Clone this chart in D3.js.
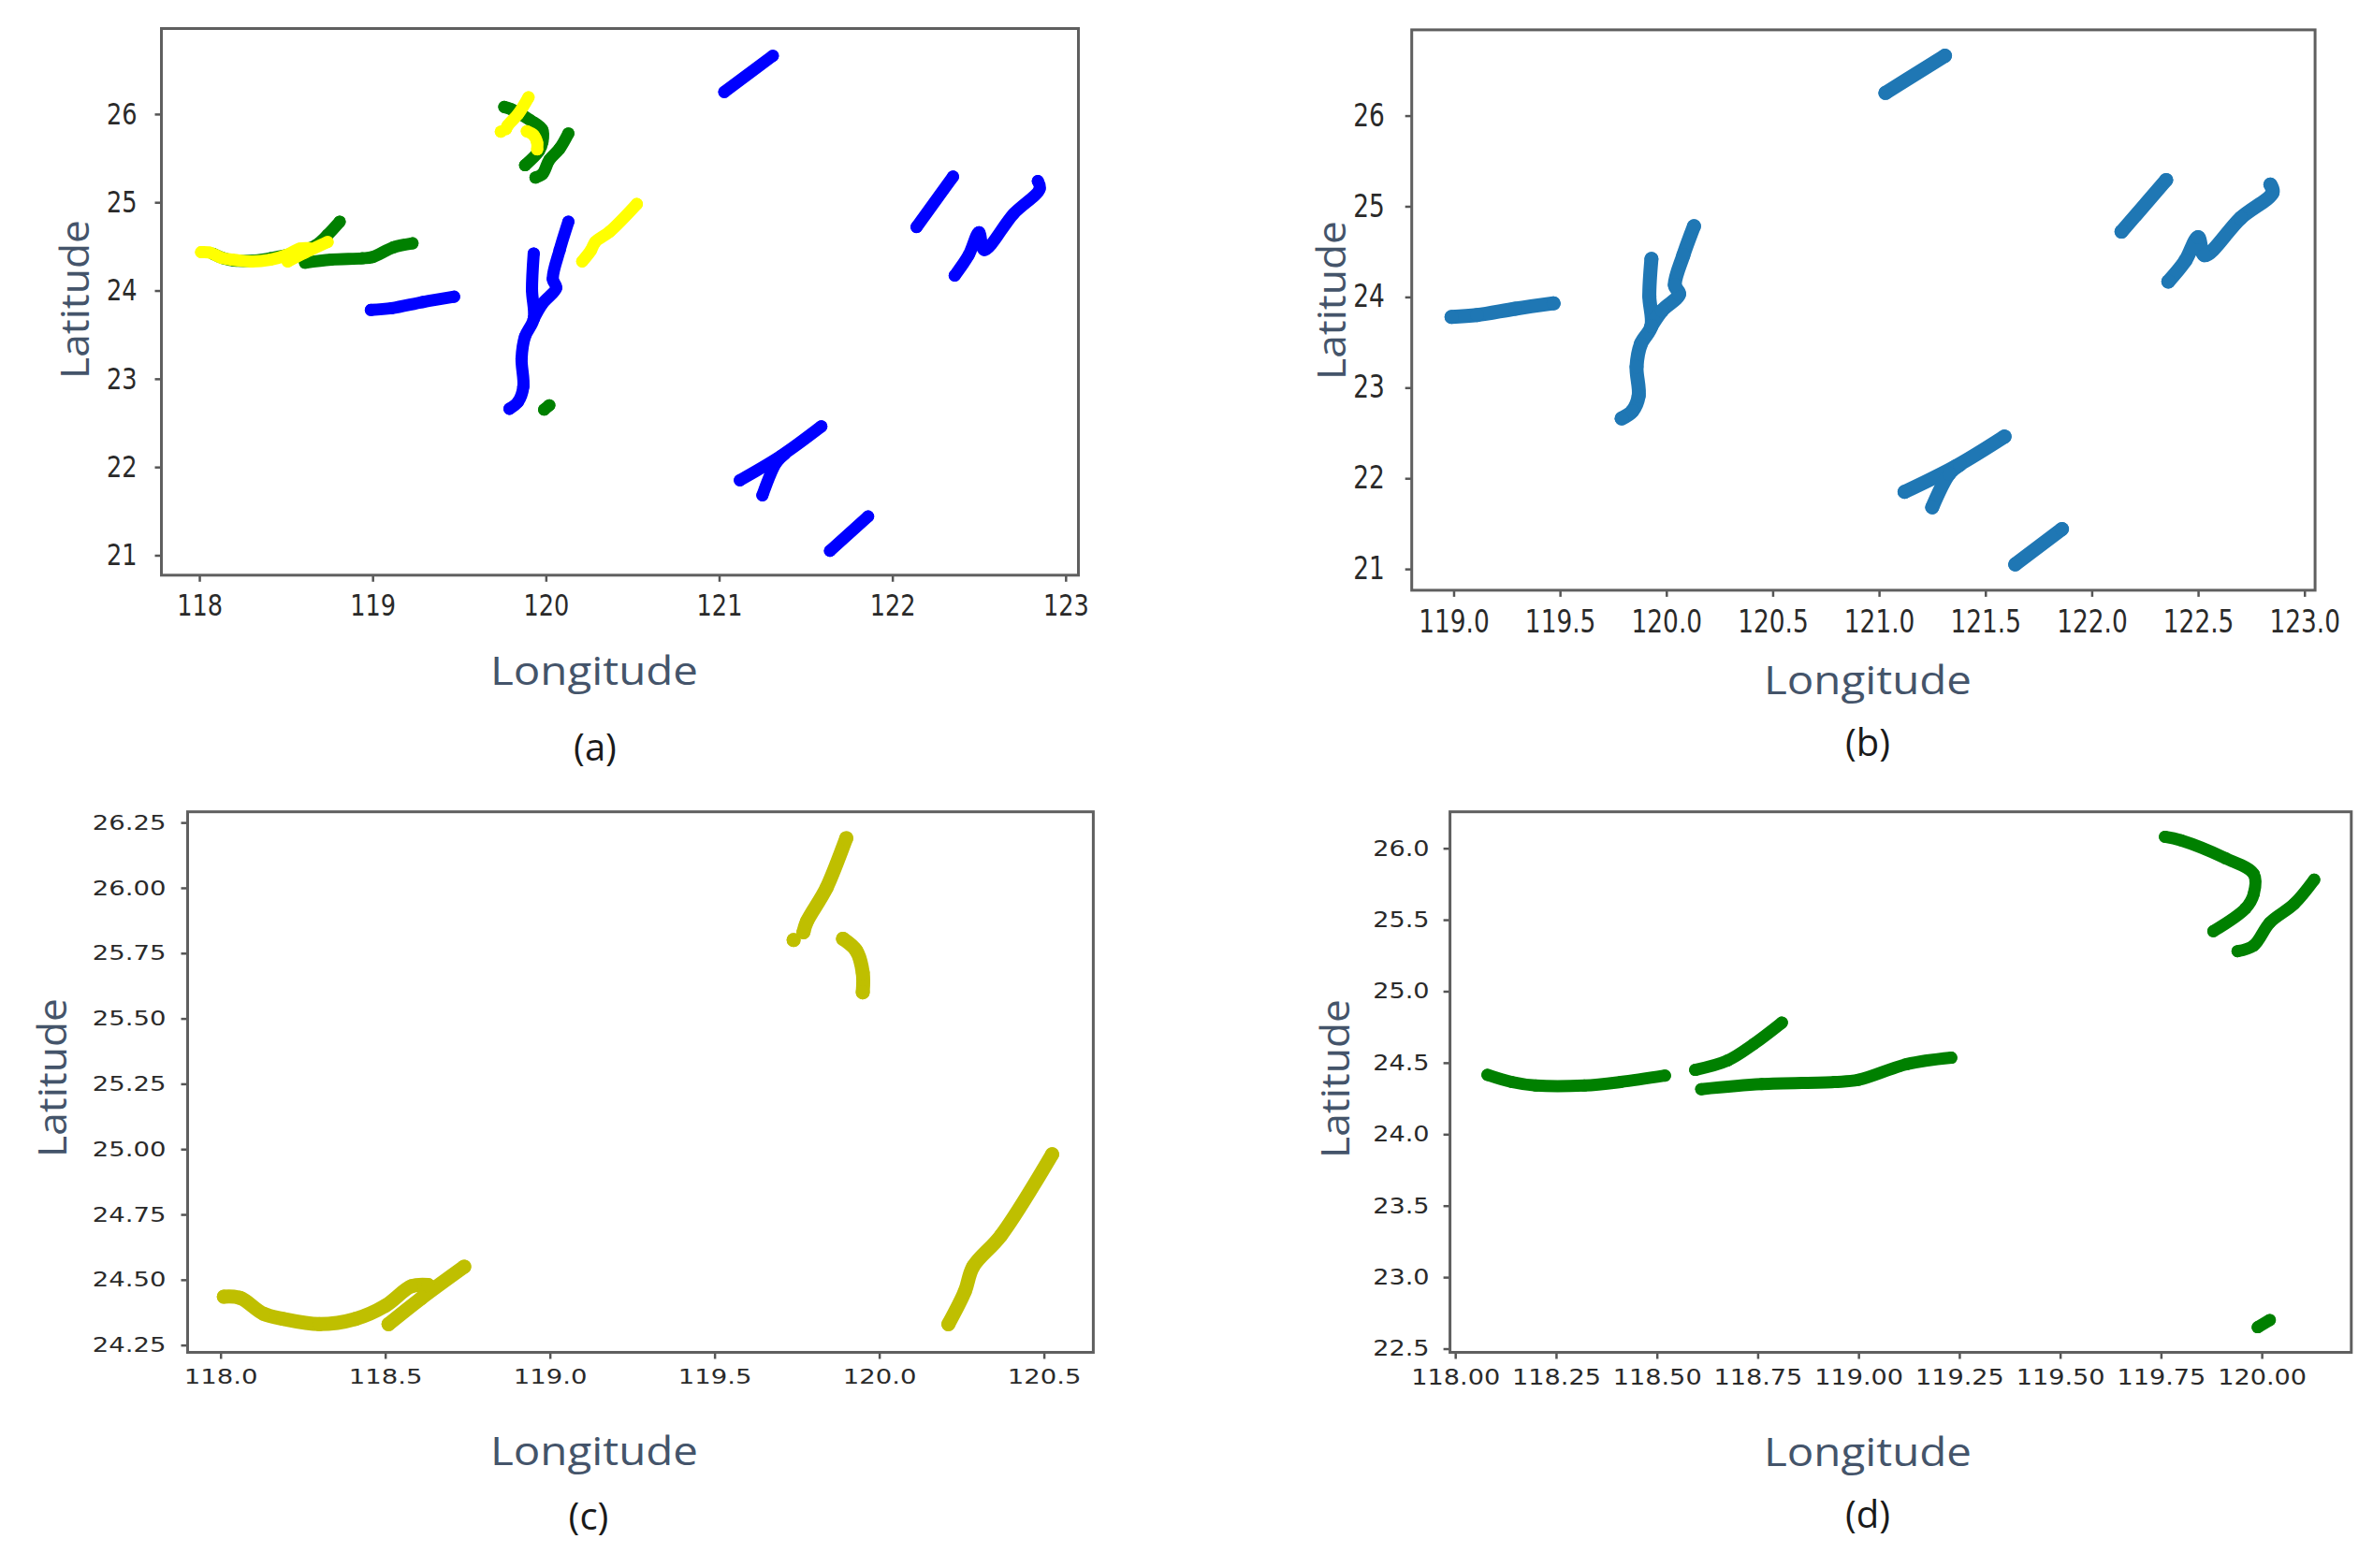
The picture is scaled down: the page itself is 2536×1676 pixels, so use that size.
<!DOCTYPE html>
<meta charset="utf-8">
<body>
<svg id="fig"></svg>
</body>

<style>
body { margin: 0; background: #fff; }
.ax-label { font-family: "Open Sans", sans-serif; fill: #44546a; }
.sub-label { font-family: "Open Sans", sans-serif; fill: #1a1a1a; }
.tick text { font-family: "DejaVu Sans", sans-serif; fill: #2a2a2a; }
.tick line { stroke: #555; stroke-width: 2.5; }
</style>

<script src="https://d3js.org/d3.v7.min.js"></script>
<script>

// ---- data: ship tracks, [longitude, latitude] ----

var blueTracks = [
  [[118.99, 23.78], [119.11, 23.80], [119.29, 23.87], [119.47, 23.93]],
  [[119.79, 22.66], [119.84, 22.74], [119.87, 22.91], [119.86, 23.23], [119.88, 23.48], [119.93, 23.68], [119.92, 24.01], [119.93, 24.42]],
  [[119.93, 23.68], [119.98, 23.85], [120.06, 24.03], [120.04, 24.13], [120.08, 24.46], [120.13, 24.78]],
  [[121.03, 26.25], [121.31, 26.66]],
  [[122.14, 24.72], [122.35, 25.29]],
  [[122.36, 24.17], [122.44, 24.40], [122.50, 24.66], [122.53, 24.46], [122.70, 24.87], [122.85, 25.15], [122.84, 25.24]],
  [[121.12, 21.85], [121.36, 22.13], [121.59, 22.46]],
  [[121.25, 21.68], [121.33, 22.05], [121.38, 22.15]],
  [[121.64, 21.05], [121.86, 21.44]]
];

var greenTracks = [
  [[118.08, 24.415], [118.14, 24.365], [118.20, 24.34], [118.32, 24.34], [118.41, 24.365], [118.52, 24.41]],
  [[118.595, 24.45], [118.675, 24.515], [118.74, 24.63], [118.81, 24.78]],
  [[118.61, 24.315], [118.76, 24.35], [118.94, 24.365], [119.00, 24.38], [119.12, 24.49], [119.23, 24.535]],
  [[119.76, 26.08], [119.80, 26.055], [119.91, 25.93], [119.98, 25.82], [119.98, 25.68], [119.96, 25.58], [119.88, 25.42]],
  [[119.94, 25.28], [119.98, 25.32], [120.02, 25.48], [120.08, 25.61], [120.13, 25.78]],
  [[119.99, 22.65], [120.02, 22.70]]
];

var yellowTracks = [
  [[118.01, 24.435], [118.06, 24.43], [118.13, 24.37], [118.19, 24.35], [118.30, 24.33], [118.41, 24.35], [118.50, 24.40], [118.58, 24.475], [118.63, 24.48]],
  [[118.51, 24.33], [118.61, 24.43], [118.74, 24.55]],
  [[119.74, 25.80]],
  [[119.77, 25.83], [119.78, 25.87], [119.84, 26.00], [119.90, 26.19]],
  [[119.89, 25.805], [119.93, 25.76], [119.95, 25.675], [119.95, 25.60]],
  [[120.21, 24.33], [120.26, 24.455], [120.285, 24.55], [120.37, 24.67], [120.525, 24.98]]
];

// axis limits and ticks of each panel
var xLimA = [117.781, 123.074], yLimA = [20.774, 26.969];
var xTicksA = [118, 119, 120, 121, 122, 123], yTicksA = [21, 22, 23, 24, 25, 26];

var xLimB = [118.803, 123.05], yLimB = [20.765, 26.946];
var xTicksB = [119, 119.5, 120, 120.5, 121, 121.5, 122, 122.5, 123], yTicksB = [21, 22, 23, 24, 25, 26];

var xLimC = [117.90, 120.65], yLimC = [24.222, 26.291];
var xTicksC = [118, 118.5, 119, 119.5, 120, 120.5], yTicksC = [24.25, 24.5, 24.75, 25, 25.25, 25.5, 25.75, 26, 26.25];

var xLimD = [117.987, 120.222], yLimD = [22.474, 26.255];
var xTicksD = [118, 118.25, 118.5, 118.75, 119, 119.25, 119.5, 119.75, 120], yTicksD = [22.5, 23, 23.5, 24, 24.5, 25, 25.5, 26];

// ---- drawing ----

var svg = d3.select("#fig").attr("width", 2536).attr("height", 1676);

svg.append("rect").attr("width", 2536).attr("height", 1676).attr("fill", "#fff");

function drawPanel(p) {
  var w = p.right - p.left, h = p.bottom - p.top;
  var g = svg.append("g").attr("transform", "translate(" + p.left + "," + p.top + ")");

  var x = d3.scaleLinear().domain(p.xLim).range([0, w]);
  var y = d3.scaleLinear().domain(p.yLim).range([h, 0]);

  var line = d3.line().x(d => x(d[0])).y(d => y(d[1])).curve(d3.curveCatmullRom);

  p.layers.forEach(function(L) {
    var lg = g.append("g");
    lg.selectAll("path")
      .data(L.tracks)
      .join("path")
        .attr("d", line)
        .attr("fill", "none")
        .attr("stroke", L.color)
        .attr("stroke-width", p.dot)
        .attr("stroke-linecap", "round")
        .attr("stroke-linejoin", "round");
    lg.selectAll("circle")
      .data(L.tracks.flat())
      .join("circle")
        .attr("cx", d => x(d[0]))
        .attr("cy", d => y(d[1]))
        .attr("r", p.dot / 2)
        .attr("fill", L.color);
  });

  // x axis
  var xg = g.append("g")
      .attr("transform", "translate(0," + h + ")")
      .call(d3.axisBottom(x).tickValues(p.xTicks).tickFormat(d3.format(p.xFmt))
              .tickSize(7).tickSizeOuter(0).tickPadding(p.xGap - 7));
  xg.select(".domain").remove();
  xg.selectAll("text")
      .attr("font-size", p.font)
      .attr("transform", "scale(" + p.sx + ",1)");

  // y axis
  var yg = g.append("g")
      .call(d3.axisLeft(y).tickValues(p.yTicks).tickFormat(d3.format(p.yFmt))
              .tickSize(7).tickSizeOuter(0));
  yg.select(".domain").remove();
  yg.selectAll("text")
      .attr("font-size", p.font)
      .attr("x", -p.yGap / p.sx)
      .attr("transform", "scale(" + p.sx + ",1)");

  // frame
  g.append("rect")
      .attr("width", w).attr("height", h)
      .attr("fill", "none")
      .attr("stroke", "#5f5f5f")
      .attr("stroke-width", 3);

  // labels
  svg.append("text")
      .attr("class", "ax-label")
      .attr("x", p.xLab[0]).attr("y", p.xLab[1])
      .attr("text-anchor", "middle")
      .attr("font-size", 42)
      .attr("textLength", 222).attr("lengthAdjust", "spacingAndGlyphs")
      .text("Longitude");

  svg.append("text")
      .attr("class", "ax-label")
      .attr("transform", "translate(" + p.yLab[0] + "," + p.yLab[1] + ") rotate(-90)")
      .attr("text-anchor", "middle")
      .attr("font-size", 42)
      .attr("textLength", 170).attr("lengthAdjust", "spacingAndGlyphs")
      .text("Latitude");

  svg.append("text")
      .attr("class", "sub-label")
      .attr("x", p.sub[0]).attr("y", p.sub[1])
      .attr("text-anchor", "middle")
      .attr("font-size", 40)
      .text(p.name);
}

drawPanel({
  name: "(a)", left: 172.5, right: 1152.5, top: 30.5, bottom: 614.8,
  xLim: xLimA, yLim: yLimA, xTicks: xTicksA, yTicks: yTicksA, xFmt: "d", yFmt: "d",
  font: 32, sx: 0.8, xGap: 20, yGap: 26, dot: 13,
  layers: [
    {tracks: blueTracks, color: "#0000ff"},
    {tracks: greenTracks, color: "#008000"},
    {tracks: yellowTracks, color: "#ffff00"}
  ],
  xLab: [635, 732], yLab: [95, 320], sub: [636, 813]
});

drawPanel({
  name: "(b)", left: 1508.7, right: 2474.1, top: 31.9, bottom: 630.9,
  xLim: xLimB, yLim: yLimB, xTicks: xTicksB, yTicks: yTicksB, xFmt: ".1f", yFmt: "d",
  font: 33, sx: 0.8, xGap: 22, yGap: 29, dot: 15,
  layers: [
    {tracks: blueTracks, color: "#1f77b4"}
  ],
  xLab: [1996, 742], yLab: [1438, 321], sub: [1996, 808]
});

drawPanel({
  name: "(c)", left: 200.5, right: 1168.4, top: 867.7, bottom: 1445.5,
  xLim: xLimC, yLim: yLimC, xTicks: xTicksC, yTicks: yTicksC, xFmt: ".1f", yFmt: ".2f",
  font: 22, sx: 1.25, xGap: 18, yGap: 23, dot: 15,
  layers: [
    {tracks: yellowTracks, color: "#bfbf00"}
  ],
  xLab: [635, 1566], yLab: [71, 1152], sub: [629, 1635]
});

drawPanel({
  name: "(d)", left: 1549.6, right: 2512.8, top: 867.7, bottom: 1445.5,
  xLim: xLimD, yLim: yLimD, xTicks: xTicksD, yTicks: yTicksD, xFmt: ".2f", yFmt: ".1f",
  font: 23, sx: 1.18, xGap: 18, yGap: 22, dot: 13,
  layers: [
    {tracks: greenTracks, color: "#008000"}
  ],
  xLab: [1996, 1567], yLab: [1442, 1153], sub: [1996, 1633]
});

</script>
